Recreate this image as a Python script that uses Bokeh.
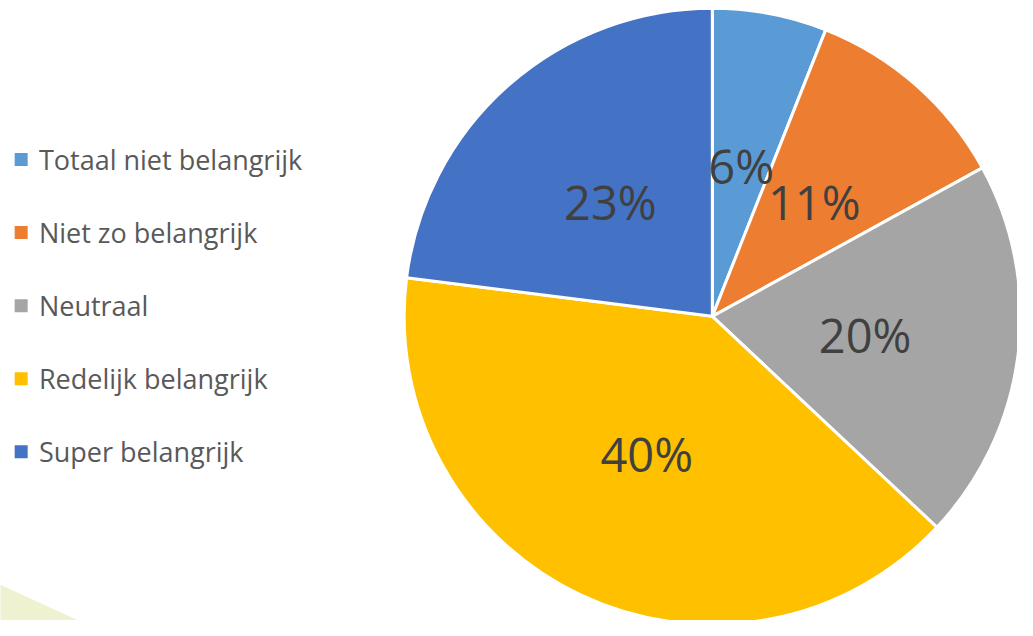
import math
from bokeh.plotting import figure
from bokeh.models import Range1d, ColumnDataSource
from bokeh.core.properties import value
from bokeh.embed import file_html
from bokeh.resources import INLINE

# ---- data ----
categories = ["Totaal niet belangrijk", "Niet zo belangrijk", "Neutraal",
              "Redelijk belangrijk", "Super belangrijk"]
shares = [6, 11, 20, 40, 23]
colors = ["#5B9BD5", "#ED7D31", "#A5A5A5", "#FFC000", "#4472C4"]

# ---- layout (reference pixel frame, y measured upward from bottom) ----
W, H = 1033, 636
M = 8
cx, cy, R = 723, H - 324, 313
FONT = "Open Sans"

total = sum(shares)
starts, ends, lx, ly, labels = [], [], [], [], []
acc = 0.0
for s in shares:
    a0 = math.pi / 2 - 2 * math.pi * acc / total
    acc += s
    a1 = math.pi / 2 - 2 * math.pi * acc / total
    starts.append(a1)
    ends.append(a0)
    mid = (a0 + a1) / 2
    lx.append(cx + 0.5 * R * math.cos(mid))
    ly.append(cy + 0.5 * R * math.sin(mid))
    labels.append(f"{round(100 * s / total)}%")

src = ColumnDataSource(dict(start=starts, end=ends, color=colors,
                            lx=lx, ly=ly, label=labels))

p = figure(width=W - 2 * M, height=H - 2 * M, output_backend="svg",
           toolbar_location=None, x_range=Range1d(0, W),
           y_range=Range1d(0, H), min_border=0,
           background_fill_color="white", border_fill_color="white")
p.axis.visible = False
p.grid.visible = False
p.outline_line_color = None

# decorative pale green shape bottom-left
p.patch(x=[-20, 92, -20], y=[H - 590, H - 642, H - 642],
        fill_color="#EEF2D0", line_color=None)

p.wedge(x=cx, y=cy, radius=R, start_angle="start", end_angle="end",
        fill_color="color", line_color="white", line_width=3, source=src)

p.text(x="lx", y="ly", text="label", source=src, text_align="center",
       text_baseline="middle", text_font=value(FONT),
       text_font_size="47px", text_color="#404040")

# legend drawn manually
leg_y = [H - (163 + 75 * i) for i in range(len(categories))]
leg = ColumnDataSource(dict(y=leg_y, name=categories, color=colors))
p.scatter(x=21, y="y", marker="square", size=13, fill_color="color",
          line_color=None, source=leg)
p.text(x=39, y="y", text="name", source=leg, text_align="left",
       text_baseline="middle", text_font=value(FONT),
       text_font_size="27px", text_color="#595959")

open("out.html", "w").write(file_html(p, INLINE))
